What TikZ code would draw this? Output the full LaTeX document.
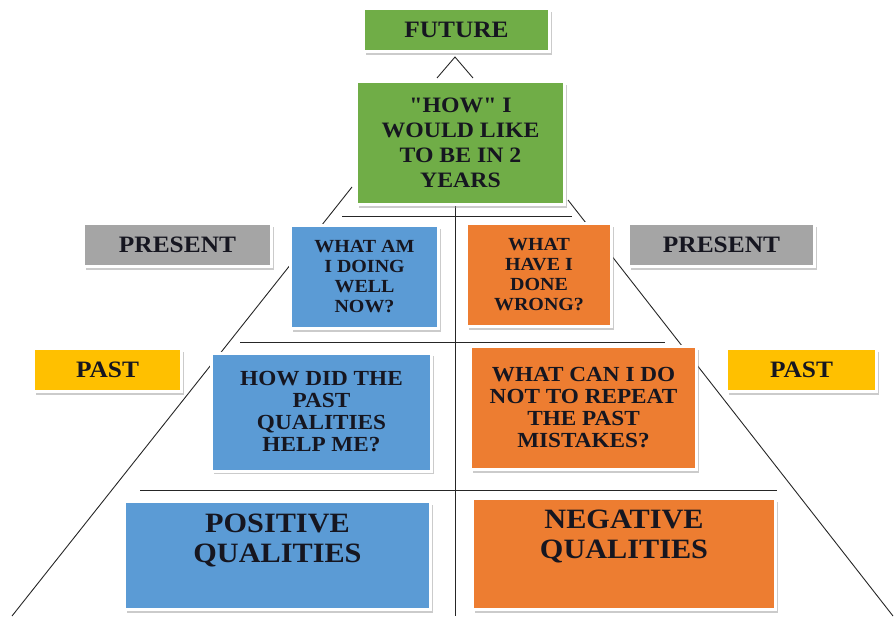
\documentclass[tikz,border=0pt]{standalone}
\usepackage{fontspec}
\setmainfont{Liberation Serif}[FakeStretch=1.08, Ligatures=TeXOff]
\usetikzlibrary{shadows}
\definecolor{cgreen}{HTML}{70AD47}
\definecolor{cblue}{HTML}{5B9BD5}
\definecolor{corange}{HTML}{ED7D31}
\definecolor{cgray}{HTML}{A5A5A5}
\definecolor{cyellow}{HTML}{FFC000}
\definecolor{ink}{HTML}{161620}
\begin{document}
\begin{tikzpicture}[x=1pt,y=-1pt,
  card/.style={draw=white, line width=3pt, inner sep=0pt, align=center,
    text=ink, font=\bfseries,
    drop shadow={shadow xshift=2.5pt, shadow yshift=-3pt, fill=black!45, opacity=0.45}},
  txt/.style={inner sep=0pt, align=center, text=ink},
  guide/.style={draw=black!85, line width=0.9pt},
  big/.style={font=\bfseries\fontsize{22}{25}\selectfont},
  tag/.style={font=\bfseries\fontsize{23.5}{25}\selectfont},
  small/.style={font=\bfseries\fontsize{18.5}{20}\selectfont},
  mid/.style={font=\bfseries\fontsize{21.5}{22}\selectfont},
  huge/.style={font=\bfseries\fontsize{28}{30}\selectfont}]
\useasboundingbox (0,0) rectangle (896,616);

% frame of the pyramid, drawn first so the boxes sit on top of it
\coordinate (apex) at (455,57);
\coordinate (apexL) at (437,78);
\coordinate (apexR) at (473,78);
\coordinate (lt) at (352,187);
\coordinate (lb) at (12,616);
\coordinate (rt) at (568,200);
\coordinate (rb) at (893,616);
\coordinate (vt) at (455,195);
\coordinate (vb) at (455,616);
\coordinate (h1a) at (342,216);
\coordinate (h1b) at (572,216);
\coordinate (h2a) at (240,342);
\coordinate (h2b) at (665,342);
\coordinate (h3a) at (140,490);
\coordinate (h3b) at (777,490);
\draw[guide] (apexL) -- (apex) -- (apexR);
\draw[guide] (lt) -- (lb);
\draw[guide] (rt) -- (rb);
\draw[guide] (vt) -- (vb);
\draw[guide] (h1a) -- (h1b);
\draw[guide] (h2a) -- (h2b);
\draw[guide] (h3a) -- (h3b);

% top
\node[card, tag, fill=cgreen, minimum width=186pt, minimum height=43pt] (future) at (456.5,30) {FUTURE};
\node[card, big, fill=cgreen, minimum width=208pt, minimum height=123pt] (how) at (460.5,143)
  {"HOW" I\\WOULD LIKE\\TO BE IN 2\\YEARS};

% present row
\node[card, tag, fill=cgray, minimum width=188pt, minimum height=43pt] (presL) at (177.5,245) {PRESENT};
\node[card, small, fill=cblue, minimum width=148pt, minimum height=103pt] (doing) at (364.5,277)
  {WHAT AM\\I DOING\\WELL\\NOW?};
\node[card, small, fill=corange, minimum width=145pt, minimum height=103pt] (wrong) at (539,275)
  {WHAT\\HAVE I\\DONE\\WRONG?};
\node[card, tag, fill=cgray, minimum width=186pt, minimum height=43pt] (presR) at (721.5,245) {PRESENT};

% past row
\node[card, tag, fill=cyellow, minimum width=148pt, minimum height=43pt] (pastL) at (107.5,370) {PAST};
\node[card, mid, fill=cblue, minimum width=220pt, minimum height=118pt] (help) at (321.5,412)
  {HOW DID THE\\PAST\\QUALITIES\\HELP ME?};
\node[card, mid, fill=corange, minimum width=226pt, minimum height=123pt] (repeat) at (583.5,408)
  {WHAT CAN I DO\\NOT TO REPEAT\\THE PAST\\MISTAKES?};
\node[card, tag, fill=cyellow, minimum width=150pt, minimum height=43pt] (pastR) at (801.5,370) {PAST};

% base row
\node[card, fill=cblue, minimum width=306pt, minimum height=108pt] (pos) at (277.5,555.5) {};
\node[txt, huge, anchor=north] (posT) at ([yshift=-14pt]pos.north) {POSITIVE\\QUALITIES};
\node[card, fill=corange, minimum width=303pt, minimum height=111pt] (neg) at (624,554) {};
\node[txt, huge, anchor=north] (negT) at ([yshift=-13pt]neg.north) {NEGATIVE\\QUALITIES};
\end{tikzpicture}
\end{document}
